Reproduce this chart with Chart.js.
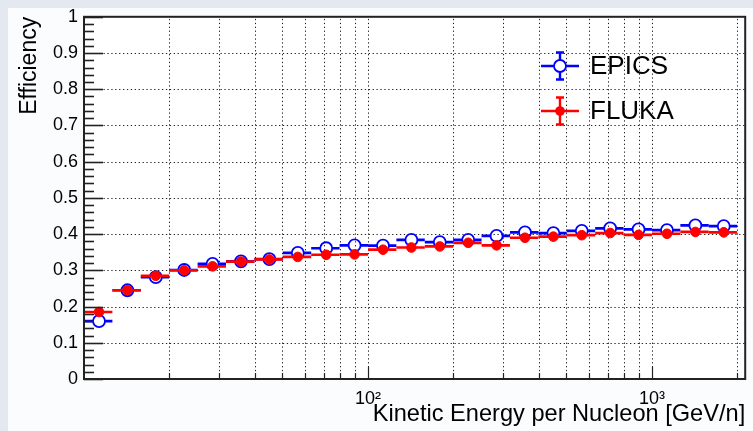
<!DOCTYPE html>
<html>
<head>
<meta charset="utf-8">
<script src="https://cdn.jsdelivr.net/npm/chart.js@4/dist/chart.umd.min.js"></script>
<style>
html,body{margin:0;padding:0;background:#e4e9f1;}
#wrap{position:relative;width:753px;height:431px;overflow:hidden;}
canvas{display:block;}
</style>
</head>
<body>
<div id="wrap"><canvas id="c" width="753" height="431"></canvas></div>
<script>
// ---- data ----
const binEdges = [10, 12.59, 15.85, 19.95, 25.12, 31.62, 39.81, 50.12, 63.1, 79.43,
                  100, 125.9, 158.5, 199.5, 251.2, 316.2, 398.1, 501.2, 631.0, 794.3,
                  1000, 1259, 1585, 1995];
const epicsEff = [0.160, 0.245, 0.281, 0.301, 0.318, 0.325, 0.331, 0.348, 0.361, 0.369,
                  0.368, 0.384, 0.378, 0.384, 0.395, 0.405, 0.403, 0.409, 0.416, 0.413,
                  0.411, 0.424, 0.422];
const flukaEff = [0.185, 0.245, 0.285, 0.300, 0.311, 0.324, 0.330, 0.337, 0.343, 0.344,
                  0.357, 0.363, 0.366, 0.376, 0.369, 0.390, 0.393, 0.397, 0.403, 0.398,
                  0.401, 0.406, 0.405];
const epicsErr = [0.004, 0.004, 0.004, 0.004, 0.004, 0.005, 0.005, 0.005, 0.005, 0.006,
                  0.006, 0.006, 0.007, 0.007, 0.007, 0.008, 0.008, 0.009, 0.009, 0.010,
                  0.010, 0.011, 0.012];
const flukaErr = [0.004, 0.004, 0.004, 0.004, 0.004, 0.005, 0.005, 0.005, 0.005, 0.006,
                  0.006, 0.006, 0.007, 0.007, 0.007, 0.008, 0.008, 0.009, 0.009, 0.010,
                  0.010, 0.011, 0.014];
const seriesNames = ['EPICS', 'FLUKA'];
const xGridValues = [20, 30, 40, 50, 60, 70, 80, 90, 100, 200, 300, 400, 500, 600, 700, 800, 900, 1000, 2000];
const xLabelValues = [100, 1000];
const xLabelTexts = ['10\u00B2', '10\u00B3'];
const yTickValues = [0, 0.1, 0.2, 0.3, 0.4, 0.5, 0.6, 0.7, 0.8, 0.9, 1];
const yTickLabels = ['0', '0.1', '0.2', '0.3', '0.4', '0.5', '0.6', '0.7', '0.8', '0.9', '1'];
const xTitle = 'Kinetic Energy per Nucleon [GeV/n]';
const yTitle = 'Efficiency';

// ---- build ----
const FONT = "'Liberation Sans', Arial, Helvetica, sans-serif";
const BLUE = '#0000ff', RED = '#ff0000';
function pts(vals) {
  return vals.map((v, i) => ({ x: (binEdges[i] + binEdges[i + 1]) / 2, y: v }));
}

const errPlugin = {
  id: 'errbars',
  beforeDatasetDraw(chart, args) {
    const ds = chart.data.datasets[args.index];
    const { ctx, scales: { x, y } } = chart;
    const a = chart.chartArea;
    ctx.save();
    ctx.beginPath(); ctx.rect(a.left, a.top, a.right - a.left, a.bottom - a.top); ctx.clip();
    ctx.strokeStyle = ds.borderColor;
    ctx.lineCap = 'butt';
    const gap = ds.errGap;
    ds.data.forEach((p, i) => {
      const x1 = x.getPixelForValue(binEdges[i]);
      const x2 = x.getPixelForValue(binEdges[i + 1]);
      const cx = x.getPixelForValue(p.x), cy = y.getPixelForValue(p.y);
      ctx.lineWidth = 2.7;
      ctx.beginPath();
      ctx.moveTo(x1, cy); ctx.lineTo(cx - gap, cy);
      ctx.moveTo(cx + gap, cy); ctx.lineTo(x2, cy);
      ctx.stroke();
      const e = ds.errors[i];
      const yt = y.getPixelForValue(p.y + e), yb = y.getPixelForValue(p.y - e);
      if (cy - yt > gap) {
        ctx.lineWidth = 2;
        ctx.beginPath();
        ctx.moveTo(cx, cy - gap); ctx.lineTo(cx, yt);
        ctx.moveTo(cx, cy + gap); ctx.lineTo(cx, yb);
        ctx.stroke();
      }
    });
    ctx.restore();
  }
};

const rootPlugin = {
  id: 'rootStyle',
  beforeDraw(chart) {
    const { ctx, chartArea: a } = chart;
    ctx.save();
    ctx.fillStyle = '#fbfcfd';
    ctx.fillRect(8, 8, chart.width - 8, chart.height - 8);
    ctx.fillStyle = '#ffffff';
    ctx.fillRect(a.left, a.top, a.right - a.left, a.bottom - a.top);
    ctx.restore();
  },
  beforeDatasetsDraw(chart) {
    const { ctx, chartArea: a, scales: { x, y } } = chart;
    ctx.save();
    ctx.strokeStyle = '#222';
    ctx.lineWidth = 1;
    ctx.setLineDash([1.3, 2.6]);
    xGridValues.forEach(v => {
      const px = Math.round(x.getPixelForValue(v)) + 0.5;
      ctx.beginPath(); ctx.moveTo(px, a.bottom); ctx.lineTo(px, a.top); ctx.stroke();
    });
    yTickValues.forEach(v => {
      if (v <= 0 || v >= 1) return;
      const py = Math.round(y.getPixelForValue(v)) + 0.5;
      ctx.beginPath(); ctx.moveTo(a.left, py); ctx.lineTo(a.right, py); ctx.stroke();
    });
    ctx.restore();
  },
  afterDatasetsDraw(chart) {
    const { ctx, chartArea: a, scales: { x, y } } = chart;
    ctx.save();
    ctx.strokeStyle = '#222';
    ctx.lineWidth = 1.6;
    for (let i = 0; i <= 50; i++) {
      const v = i / 50;
      const py = Math.round(y.getPixelForValue(v)) + 0.5;
      const len = (i % 5 === 0) ? 19 : 10;
      ctx.beginPath(); ctx.moveTo(a.left, py); ctx.lineTo(a.left + len, py); ctx.stroke();
    }
    ctx.lineWidth = 1.2;
    xGridValues.forEach(v => {
      const px = Math.round(x.getPixelForValue(v)) + 0.5;
      const len = xLabelValues.includes(v) ? 12 : 6;
      ctx.beginPath(); ctx.moveTo(px, a.bottom); ctx.lineTo(px, a.bottom - len); ctx.stroke();
    });
    ctx.lineWidth = 2;
    ctx.strokeRect(a.left, a.top, a.right - a.left, a.bottom - a.top);
    ctx.restore();
  },
  afterDraw(chart) {
    const { ctx } = chart;
    const items = [
      { name: seriesNames[0], color: BLUE, open: true, cy: 66 },
      { name: seriesNames[1], color: RED, open: false, cy: 111 }
    ];
    ctx.save();
    items.forEach(it => {
      const cx = 560;
      ctx.strokeStyle = it.color;
      ctx.lineWidth = 2.4;
      const g = it.open ? 6 : 0;
      ctx.beginPath();
      ctx.moveTo(541, it.cy); ctx.lineTo(cx - g, it.cy);
      ctx.moveTo(cx + g, it.cy); ctx.lineTo(579, it.cy);
      ctx.moveTo(cx, it.cy - 13.5); ctx.lineTo(cx, it.cy - g);
      ctx.moveTo(cx, it.cy + g); ctx.lineTo(cx, it.cy + 13.5);
      ctx.moveTo(cx - 4, it.cy - 13.5); ctx.lineTo(cx + 4, it.cy - 13.5);
      ctx.moveTo(cx - 4, it.cy + 13.5); ctx.lineTo(cx + 4, it.cy + 13.5);
      ctx.stroke();
      ctx.beginPath();
      if (it.open) {
        ctx.lineWidth = 1.8;
        ctx.arc(cx, it.cy, 6, 0, Math.PI * 2);
        ctx.stroke();
      } else {
        ctx.fillStyle = it.color;
        ctx.arc(cx, it.cy, 4.8, 0, Math.PI * 2);
        ctx.fill();
      }
      ctx.fillStyle = '#000';
      ctx.font = '26px ' + FONT;
      ctx.textBaseline = 'middle';
      ctx.textAlign = 'left';
      ctx.fillText(it.name, 590, it.cy + 1);
    });
    ctx.restore();
  }
};

new Chart(document.getElementById('c'), {
  type: 'scatter',
  data: {
    datasets: [
      {
        label: seriesNames[0], data: pts(epicsEff), errors: epicsErr, errGap: 6,
        borderColor: BLUE, backgroundColor: 'rgba(255,255,255,0)',
        pointRadius: 6, pointBorderWidth: 1.8, pointHoverRadius: 6, order: 1
      },
      {
        label: seriesNames[1], data: pts(flukaEff), errors: flukaErr, errGap: 4.5,
        borderColor: RED, backgroundColor: RED,
        pointRadius: 4.8, pointBorderWidth: 1, pointHoverRadius: 4.8, order: 0
      }
    ]
  },
  options: {
    responsive: false,
    devicePixelRatio: 1,
    animation: false,
    events: [],
    layout: { padding: { top: 15, right: 3, left: 0, bottom: 0 } },
    plugins: { legend: { display: false }, tooltip: { enabled: false } },
    scales: {
      x: {
        type: 'logarithmic', min: 10, max: 2130,
        grid: { display: false, drawTicks: false },
        border: { display: false },
        afterBuildTicks: s => { s.ticks = xLabelValues.map(v => ({ value: v })); },
        afterFit: s => { s.height = 52; },
        ticks: {
          autoSkip: false, maxRotation: 0, padding: 9, color: '#000',
          font: { family: FONT, size: 18 },
          callback: v => { const k = xLabelValues.indexOf(v); return k >= 0 ? xLabelTexts[k] : ''; }
        },
        title: {
          display: true, text: xTitle, align: 'end', color: '#000',
          font: { family: FONT, size: 23.6 }, padding: { top: 0, bottom: 2 }
        }
      },
      y: {
        min: 0, max: 1,
        grid: { display: false, drawTicks: false },
        border: { display: false },
        afterBuildTicks: s => { s.ticks = yTickValues.map(v => ({ value: v })); },
        afterFit: s => { s.width = 84; },
        ticks: {
          autoSkip: false, padding: 6, color: '#000',
          font: { family: FONT, size: 18 },
          callback: v => { const k = yTickValues.findIndex(t => Math.abs(t - v) < 1e-9); return k >= 0 ? yTickLabels[k] : ''; }
        },
        title: {
          display: true, text: yTitle, align: 'end', color: '#000',
          font: { family: FONT, size: 23 }, padding: { top: 16, bottom: 0 }
        }
      }
    }
  },
  plugins: [rootPlugin, errPlugin]
});
</script>
</body>
</html>
